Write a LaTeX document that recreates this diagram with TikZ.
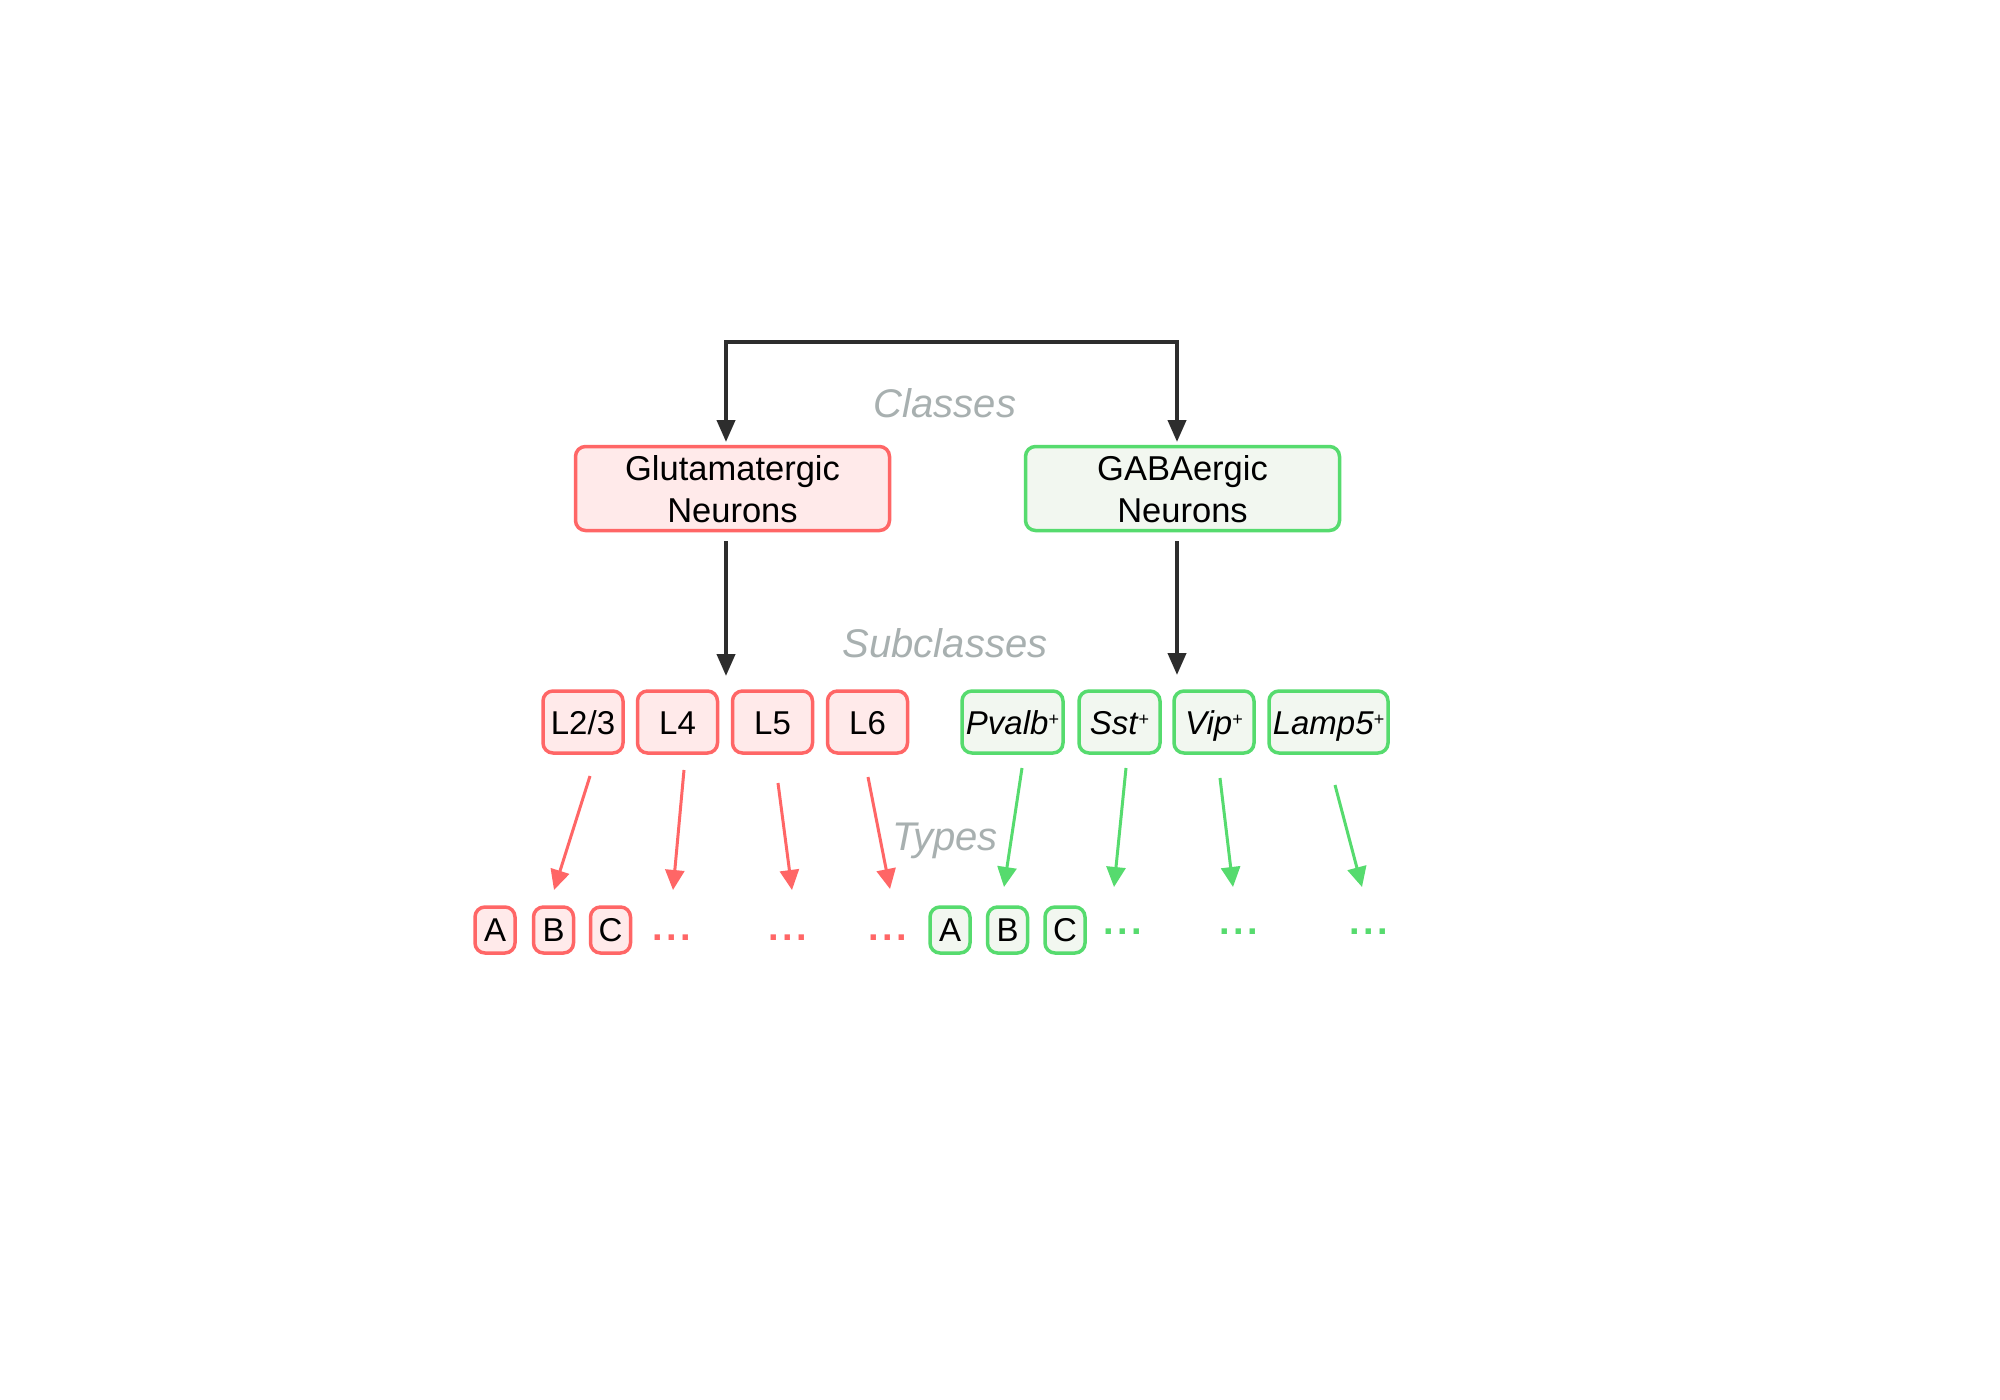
\documentclass[tikz,border=0pt]{standalone}
\usepackage{fontspec}
\setmainfont{Liberation Sans}
\usetikzlibrary{arrows.meta,calc}
\definecolor{redS}{RGB}{255,102,102}
\definecolor{redF}{RGB}{255,234,234}
\definecolor{grnS}{RGB}{86,219,110}
\definecolor{grnF}{RGB}{242,247,240}
\definecolor{blk}{RGB}{45,45,45}
\definecolor{lbl}{RGB}{168,176,176}
\begin{document}
\begin{tikzpicture}[x=1pt,y=-1pt,
  box/.style={rounded corners=10pt, line width=3.5pt, inner sep=0pt, outer sep=0pt,
    align=center, font=\fontsize{33}{42}\selectfont, text depth=0pt},
  rbox/.style={box, draw=redS, fill=redF},
  gbox/.style={box, draw=grnS, fill=grnF},
  clsbox/.style={minimum width=314pt, minimum height=84pt, font=\fontsize{34.5}{42}\selectfont},
  subbox/.style={minimum height=62pt, text height=24pt},
  typbox/.style={minimum width=40pt, minimum height=46pt, text height=23pt},
  lab/.style={text=lbl, font=\fontsize{40}{48}\selectfont\itshape, anchor=base, inner sep=0pt},
  barr/.style={draw=blk, line width=4pt, -{Triangle[width=18pt,length=22pt]}},
  rarr/.style={draw=redS, line width=3pt, -{Triangle[width=19pt,length=20pt]}},
  garr/.style={draw=grnS, line width=3pt, -{Triangle[width=19pt,length=20pt]}},
  rdots/.style={text=redS, font=\fontsize{38}{40}\selectfont\bfseries, anchor=base, inner sep=0pt},
  gdots/.style={text=grnS, font=\fontsize{38}{40}\selectfont\bfseries, anchor=base, inner sep=0pt},
]
\newcommand{\plussup}{\raisebox{9pt}{\fontsize{18}{18}\selectfont +}}
\useasboundingbox[fill=white] (0,0) rectangle (2000,1400);

% labels
\node[lab] (lclasses) at (945,417) {Classes};
\node[lab] (lsub) at (945,657) {Subclasses};
\node[lab] (ltypes) at (945,850) {Types};

% classes
\node[rbox, clsbox] (glut) at (732.5,488.5) {Glutamatergic\\Neurons};
\node[gbox, clsbox] (gaba) at (1182.5,488.5) {GABAergic\\Neurons};

% subclasses
\node[rbox, subbox, minimum width=80pt] (L23) at (583,722) {L2/3};
\node[rbox, subbox, minimum width=80pt] (L4) at (677.5,722) {L4};
\node[rbox, subbox, minimum width=80pt] (L5) at (772.5,722) {L5};
\node[rbox, subbox, minimum width=80pt] (L6) at (867.5,722) {L6};
\node[gbox, subbox, minimum width=101pt] (pvalb) at (1012.5,722) {\textit{Pvalb}\plussup};
\node[gbox, subbox, minimum width=81pt] (sst) at (1119.5,722) {\textit{Sst}\plussup};
\node[gbox, subbox, minimum width=80pt] (vip) at (1214,722) {\textit{Vip}\plussup};
\node[gbox, subbox, minimum width=119pt] (lamp) at (1328.5,722) {\textit{Lamp5}\plussup};

% types
\node[rbox, typbox] (rA) at (495,930) {A};
\node[rbox, typbox] (rB) at (553.5,930) {B};
\node[rbox, typbox] (rC) at (610.5,930) {C};
\node[gbox, typbox] (gA) at (950,930) {A};
\node[gbox, typbox] (gB) at (1007.5,930) {B};
\node[gbox, typbox] (gC) at (1065,930) {C};
\node[rdots] (rd1) at (672,940.7) {.\kern3.4pt.\kern3.4pt.};
\node[rdots] (rd2) at (788,940.7) {.\kern3.4pt.\kern3.4pt.};
\node[rdots] (rd3) at (888,940.7) {.\kern3.4pt.\kern3.4pt.};
\node[gdots] (gd1) at (1123,934.7) {.\kern3.4pt.\kern3.4pt.};
\node[gdots] (gd2) at (1238.5,934.7) {.\kern3.4pt.\kern3.4pt.};
\node[gdots] (gd3) at (1368.5,934.7) {.\kern3.4pt.\kern3.4pt.};

% top connector
\coordinate (top) at (951.5,342);
\draw[barr] (top) -| ([xshift=-6.5pt,yshift=4.5pt]glut.north);
\draw[barr] (top) -| ([xshift=-5.5pt,yshift=4.5pt]gaba.north);

% class -> subclass
\coordinate (gend) at (726,676);
\coordinate (bend) at (1177,675);
\draw[barr] ([xshift=-6.5pt,yshift=-10.5pt]glut.south) -- (gend);
\draw[barr] ([xshift=-5.5pt,yshift=-10.5pt]gaba.south) -- (bend);

% subclass -> types
\coordinate (s1) at (590,776);  \coordinate (e1) at (554,890);
\coordinate (s2) at (684,770);  \coordinate (e2) at (673,890);
\coordinate (s3) at (778,783);  \coordinate (e3) at (792,890);
\coordinate (s4) at (868,777);  \coordinate (e4) at (890,889);
\coordinate (s5) at (1022,768); \coordinate (e5) at (1004,887);
\coordinate (s6) at (1126,768); \coordinate (e6) at (1114,887);
\coordinate (s7) at (1220,778); \coordinate (e7) at (1233,887);
\coordinate (s8) at (1335,785); \coordinate (e8) at (1362,887);
\draw[rarr] (s1) -- (e1);
\draw[rarr] (s2) -- (e2);
\draw[rarr] (s3) -- (e3);
\draw[rarr] (s4) -- (e4);
\draw[garr] (s5) -- (e5);
\draw[garr] (s6) -- (e6);
\draw[garr] (s7) -- (e7);
\draw[garr] (s8) -- (e8);
\end{tikzpicture}
\end{document}
